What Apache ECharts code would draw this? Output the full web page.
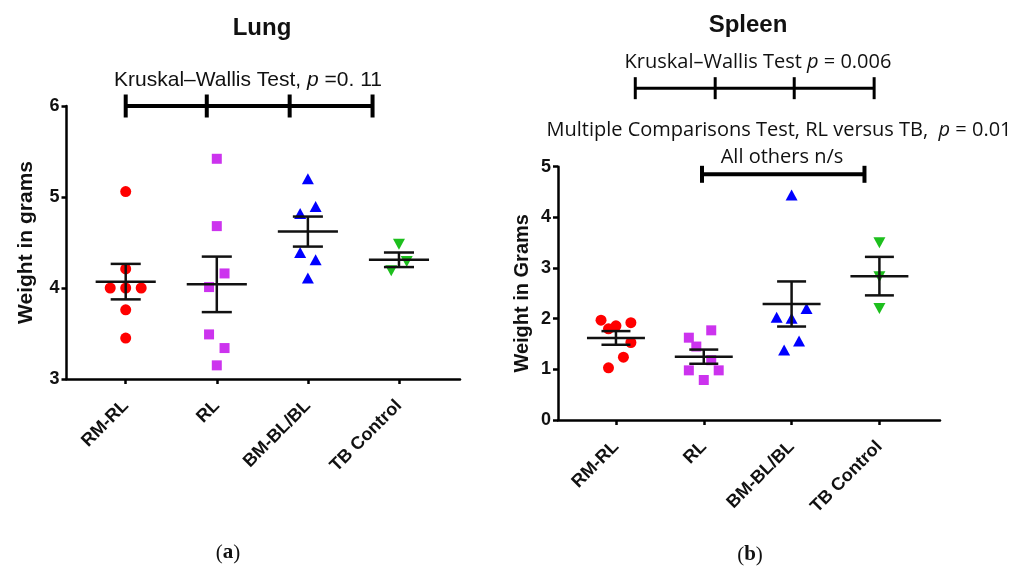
<!DOCTYPE html>
<html>
<head>
<meta charset="utf-8">
<script src="https://cdn.jsdelivr.net/npm/echarts@6/dist/echarts.min.js"></script>
<style>
html, body { margin: 0; background: #fff; }
#chart { width: 1025px; height: 569px; }
</style>
</head>
<body>
<div id="chart"></div>
<script>
// groups and readings taken from the figure
var groups = ['RM-RL', 'RL', 'BM-BL/BL', 'TB Control'];

var lungValues = [
    [5.06, 4.21, 4.0, 4.0, 4.0, 3.76, 3.45],
    [5.42, 4.68, 4.16, 4.01, 3.49, 3.34, 3.15],
    [5.20, 4.895, 4.82, 4.39, 4.31, 4.11],
    [4.48, 4.29, 4.19]
];
// jitter slot of each point (left/right of the group centre)
var lungSlots = [
    [0, 0, -2, 0, 2, 0, 0],
    [0, 0, 1, -1, -1, 1, 0],
    [0, 1, -1, -1, 1, 0],
    [0, 1, -1]
];
var lungMean = [4.07, 4.04, 4.62, 4.31];
var lungSem = [0.195, 0.305, 0.165, 0.08];

var spleenValues = [
    [1.97, 1.80, 1.86, 1.92, 1.53, 1.24, 1.03],
    [1.77, 1.625, 1.45, 1.18, 0.98, 0.98, 0.79],
    [4.44, 2.20, 2.03, 2.01, 1.56, 1.38],
    [3.50, 2.83, 2.20]
];
var spleenSlots = [
    [-2, -1, 0, 2, 2, 1, -1],
    [1, -2, -1, 1, -2, 2, 0],
    [0, 2, -2, 0, 1, -1],
    [0, 0, 0]
];
var spleenMean = [1.62, 1.25, 2.29, 2.84];
var spleenSem = [0.135, 0.14, 0.445, 0.38];

var lungTicks = [3, 4, 5, 6];
var spleenTicks = [0, 1, 2, 3, 4, 5];

// comparison brackets, in axis units
var lungBracket = [1, 1.89, 2.80, 3.71];
var spleenKwBracket = [1.22, 2.13, 3.03, 3.94];
var spleenMcBracket = [1.98, 3.83];

var colors = ['#ff0000', '#cc33ee', '#0000ff', '#1dbf1d'];
var symbols = ['circle', 'rect', 'triangle', 'triangle'];
var sizes = [11, 10, [12, 11], [12, 11]];
var rotates = [0, 0, 0, 180];

var myChart = echarts.init(document.getElementById('chart'));

var fontMain = 'Liberation Sans, Arial, sans-serif';
var fontNote = 'Open Sans, sans-serif';

function xAxisFor(idx, min, max) {
    return {
        type: 'value', gridIndex: idx, min: min, max: max,
        axisLine: { onZero: false, lineStyle: { color: '#000', width: 2.5 } },
        axisTick: { customValues: [1, 2, 3, 4], length: 5, lineStyle: { color: '#000', width: 2.5 } },
        axisLabel: {
            customValues: [1, 2, 3, 4], rotate: 45, margin: 24,
            fontFamily: fontMain, fontWeight: 'bold', fontSize: 18, color: '#111',
            formatter: function (v) { return groups[Math.round(v) - 1]; }
        },
        splitLine: { show: false }
    };
}

function yAxisFor(idx, ticks, name, gap, size) {
    return {
        type: 'value', gridIndex: idx, min: ticks[0], max: ticks[ticks.length - 1], interval: 1,
        name: name, nameLocation: 'middle', nameGap: gap, nameRotate: 90,
        nameTextStyle: { fontFamily: fontMain, fontWeight: 'bold', fontSize: size, color: '#111' },
        axisLine: { show: true, onZero: false, lineStyle: { color: '#000', width: 2.5 } },
        axisTick: { show: true, length: 5, lineStyle: { color: '#000', width: 2.5 } },
        axisLabel: { fontFamily: fontMain, fontWeight: 'bold', fontSize: 18, color: '#111', margin: 7 },
        splitLine: { show: false }
    };
}

function scatterSeries(idx, values, slots) {
    return values.map(function (vals, g) {
        return {
            type: 'scatter', xAxisIndex: idx, yAxisIndex: idx,
            symbol: symbols[g], symbolSize: sizes[g], symbolRotate: rotates[g],
            itemStyle: { color: colors[g], opacity: 1 },
            data: vals.map(function (v, i) { return [g + 1 + slots[g][i] * 0.085, v]; }),
            z: 3
        };
    });
}

function meanSeries(idx, means, sems) {
    return {
        type: 'custom', xAxisIndex: idx, yAxisIndex: idx, z: 4,
        data: means.map(function (m, g) { return [g + 1, m, sems[g]]; }),
        encode: { x: 0, y: 1 },
        renderItem: function (params, api) {
            var x = api.value(0), m = api.value(1), s = api.value(2);
            var st = { stroke: '#111', lineWidth: 2.5 };
            var a = api.coord([x - 0.33, m]), b = api.coord([x + 0.33, m]);
            var hi = api.coord([x, m + s]), lo = api.coord([x, m - s]);
            var capL = api.coord([x - 0.165, m]), capR = api.coord([x + 0.165, m]);
            return {
                type: 'group', children: [
                    { type: 'line', shape: { x1: a[0], y1: a[1], x2: b[0], y2: b[1] }, style: st },
                    { type: 'line', shape: { x1: hi[0], y1: hi[1], x2: lo[0], y2: lo[1] }, style: st },
                    { type: 'line', shape: { x1: capL[0], y1: hi[1], x2: capR[0], y2: hi[1] }, style: st },
                    { type: 'line', shape: { x1: capL[0], y1: lo[1], x2: capR[0], y2: lo[1] }, style: st }
                ]
            };
        }
    };
}

function bracketSeries(idx, xs, y, tick, width) {
    return {
        type: 'custom', xAxisIndex: idx, yAxisIndex: idx, clip: false, z: 5,
        data: [[xs[0], y]],
        renderItem: function (params, api) {
            var st = { stroke: '#000', lineWidth: width };
            var a = api.coord([xs[0], y]), b = api.coord([xs[xs.length - 1], y]);
            var kids = [{ type: 'line', shape: { x1: a[0], y1: a[1], x2: b[0], y2: b[1] }, style: st }];
            xs.forEach(function (x) {
                var p = api.coord([x, y]);
                kids.push({ type: 'line', shape: { x1: p[0], y1: p[1] - tick, x2: p[0], y2: p[1] + tick }, style: st });
            });
            return { type: 'group', children: kids };
        }
    };
}

function note(x, y, text, font, size, weight) {
    return {
        type: 'text', x: x, y: y,
        style: {
            text: text, align: 'center', verticalAlign: 'middle',
            font: (weight || 'normal') + ' ' + size + 'px ' + font, fill: '#111',
            rich: { i: { fontStyle: 'italic', fontFamily: font, fontSize: size, fill: '#111' } }
        }
    };
}

function panelLabel(x, y, letter) {
    return {
        type: 'text', x: x, y: y,
        style: {
            text: '({b|' + letter + '})', align: 'center', verticalAlign: 'middle',
            font: '21px Liberation Serif, serif', fill: '#111',
            rich: { b: { fontWeight: 'bold', fontFamily: 'Liberation Serif', fontSize: 21, fill: '#111' } }
        }
    };
}

var option = {
    animation: false,
    backgroundColor: '#fff',
    grid: [
        { left: 66.5, top: 106, right: 565, bottom: 190 },
        { left: 558, top: 166.7, right: 85, bottom: 149 }
    ],
    xAxis: [xAxisFor(0, 0.35, 4.67), xAxisFor(1, 0.34, 4.69)],
    yAxis: [
        yAxisFor(0, lungTicks, 'Weight in grams', 30, 21),
        yAxisFor(1, spleenTicks, 'Weight in Grams', 26, 20)
    ],
    graphic: [
        note(262, 28, 'Lung', fontMain, 24, 'bold'),
        note(248, 80, 'Kruskal\u2013Wallis Test, {i|p} =0. 11', fontMain, 21),
        note(748, 25, 'Spleen', fontMain, 24, 'bold'),
        note(758, 62, 'Kruskal\u2013Wallis Test {i|p} = 0.006', fontNote, 20),
        note(779, 130, 'Multiple Comparisons Test, RL versus TB,  {i|p} = 0.01', fontNote, 20),
        note(782, 157, 'All others n/s', fontNote, 20),
        panelLabel(228, 553, 'a'),
        panelLabel(750, 555, 'b')
    ],
    series: []
        .concat(scatterSeries(0, lungValues, lungSlots))
        .concat(scatterSeries(1, spleenValues, spleenSlots))
        .concat([
            meanSeries(0, lungMean, lungSem),
            meanSeries(1, spleenMean, spleenSem),
            bracketSeries(0, lungBracket, 6, 11.5, 4),
            bracketSeries(1, spleenKwBracket, 6.55, 11, 3),
            bracketSeries(1, spleenMcBracket, 4.85, 8.5, 4)
        ])
};

myChart.setOption(option);
</script>
</body>
</html>
